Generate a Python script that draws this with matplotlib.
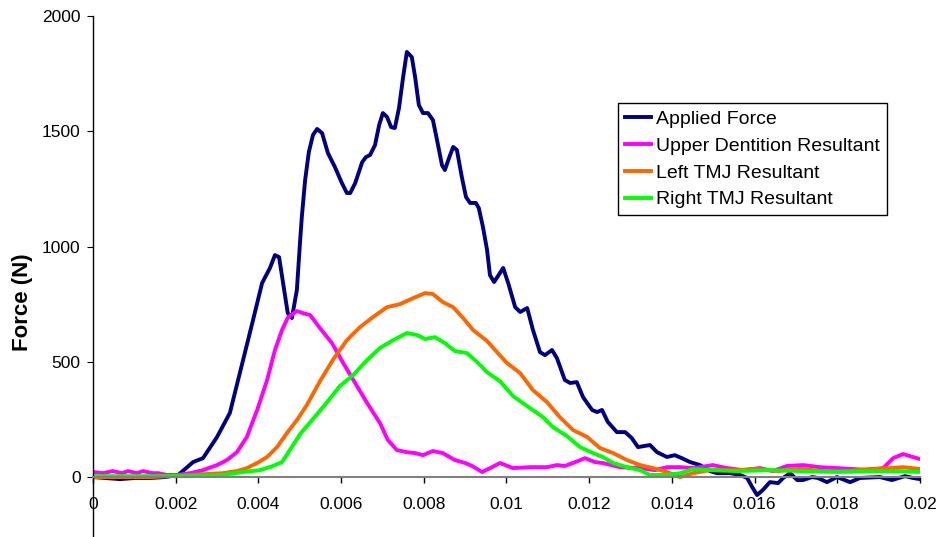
import matplotlib
matplotlib.use('Agg')
import matplotlib.pyplot as plt
import numpy as np

plt.rcParams['font.family'] = ['Liberation Sans', 'DejaVu Sans']

# time in ms (converted to seconds below)
t_applied = [0, 0.29, 0.65, 1.02, 1.38, 1.74, 2.06, 2.42, 2.66, 3.00, 3.31, 3.63, 3.87, 4.09,
             4.28, 4.40, 4.50, 4.71, 4.81, 4.93, 5.01, 5.05, 5.13, 5.22, 5.32, 5.42, 5.54,
             5.68, 5.85, 6.02, 6.14, 6.22, 6.34, 6.51, 6.60, 6.70, 6.82, 6.92, 7.01, 7.11,
             7.21, 7.30, 7.40, 7.50, 7.59, 7.71, 7.79, 7.88, 7.98, 8.10, 8.22, 8.32, 8.44,
             8.51, 8.61, 8.71, 8.80, 8.92, 9.02, 9.12, 9.26, 9.33, 9.43, 9.53, 9.60, 9.70,
             9.92, 10.04, 10.21, 10.33, 10.50, 10.64, 10.81, 10.93, 11.10, 11.22, 11.41,
             11.54, 11.70, 11.85, 12.07, 12.19, 12.31, 12.45, 12.67, 12.87, 13.03, 13.18,
             13.47, 13.64, 13.88, 14.07, 14.24, 14.44, 14.68, 14.92, 15.09, 15.41, 15.65,
             15.82, 15.94, 16.06, 16.20, 16.37, 16.57, 16.69, 16.86, 17.03, 17.17, 17.39,
             17.53, 17.75, 17.99, 18.31, 18.55, 19.03, 19.32, 19.64, 19.83, 20.00]
applied = [0, -4, -9, -4, -4, 0, 9, 65, 82, 174, 278, 508, 681, 842,
           907, 963, 954, 711, 690, 811, 1028, 1128, 1288, 1410, 1484, 1510, 1492,
           1406, 1345, 1275, 1232, 1232, 1275, 1366, 1388, 1397, 1440, 1527, 1579, 1562,
           1518, 1514, 1601, 1735, 1844, 1822, 1735, 1614, 1579, 1579, 1549, 1462, 1353,
           1332, 1384, 1432, 1419, 1301, 1215, 1189, 1189, 1167, 1085, 985, 876, 846,
           907, 842, 737, 716, 733, 638, 542, 529, 551, 516, 421,
           408, 412, 347, 291, 282, 291, 239, 195, 195, 169, 130,
           139, 108, 87, 95, 82, 65, 52, 26, 17, 17, 9,
           -4, -43, -78, -56, -22, -26, -4, 17, -13, -13, 0,
           -4, -22, 0, -22, -4, 0, -13, 4, -4, -9]

t_upper = [0, 0.24, 0.48, 0.70, 0.85, 1.06, 1.21, 1.43, 1.57, 1.79, 2.03, 2.35, 2.66, 3.00,
           3.24, 3.48, 3.72, 3.97, 4.21, 4.40, 4.57, 4.72, 4.93, 5.08, 5.25, 5.49, 5.78,
           6.05, 6.34, 6.63, 6.94, 7.13, 7.35, 7.59, 7.79, 7.98, 8.22, 8.46, 8.75, 9.00,
           9.17, 9.41, 9.65, 9.84, 10.16, 10.57, 10.98, 11.22, 11.41, 11.66, 11.90, 12.14,
           12.33, 12.74, 13.16, 13.40, 13.59, 13.88, 14.20, 14.51, 14.68, 14.99, 15.33,
           15.72, 16.13, 16.44, 16.78, 17.17, 17.58, 17.99, 18.38, 18.79, 19.11, 19.35,
           19.59, 19.83, 20.00]
upper = [22, 17, 26, 17, 26, 17, 26, 17, 17, 9, 9, 17, 30, 52,
         74, 108, 174, 291, 421, 551, 638, 694, 720, 711, 703, 646, 581,
         495, 408, 321, 234, 161, 117, 108, 104, 95, 113, 104, 74, 61,
         48, 22, 43, 61, 39, 43, 43, 52, 48, 65, 82, 65,
         61, 43, 39, 35, 30, 43, 43, 39, 43, 52, 39,
         30, 39, 26, 48, 52, 43, 39, 35, 30, 39, 82,
         100, 87, 78]

t_left = [0, 1.38, 2.35, 3.14, 3.48, 3.72, 3.97, 4.21, 4.45, 4.69, 4.93, 5.17, 5.49, 5.80,
          6.14, 6.46, 6.77, 7.11, 7.42, 7.74, 8.03, 8.22, 8.46, 8.71, 8.95, 9.19, 9.53,
          9.77, 10.01, 10.33, 10.64, 10.98, 11.29, 11.61, 11.95, 12.26, 12.58, 12.91,
          13.23, 13.54, 13.88, 14.20, 14.51, 14.92, 15.57, 16.06, 16.54, 17.10, 17.65,
          18.23, 18.79, 19.27, 19.59, 20.00]
left_tmj = [0, 0, 9, 17, 26, 39, 61, 87, 130, 191, 247, 312, 416, 508,
            594, 651, 694, 737, 750, 776, 798, 794, 759, 737, 690, 638, 590,
            542, 495, 451, 377, 325, 260, 204, 174, 126, 104, 74,
            52, 39, 22, 0, 17, 30, 30, 35, 26, 35, 26,
            26, 35, 39, 43, 35]

t_right = [0, 2.35, 3.14, 3.63, 4.04, 4.35, 4.57, 4.76, 5.01, 5.32, 5.66, 5.97, 6.29, 6.63,
           6.94, 7.26, 7.59, 7.84, 8.03, 8.27, 8.51, 8.75, 9.04, 9.29, 9.53, 9.84, 10.16,
           10.57, 10.88, 11.12, 11.46, 11.78, 12.09, 12.33, 12.58, 12.91, 13.23, 13.47,
           13.88, 14.20, 14.51, 14.92, 15.57, 16.37, 17.17, 17.99, 18.79, 19.44, 20.00]
right_tmj = [4, 4, 9, 22, 30, 48, 65, 117, 187, 252, 325, 395, 442, 508,
             560, 594, 625, 616, 599, 607, 581, 547, 538, 499, 455, 416, 351,
             299, 260, 217, 178, 130, 104, 87, 61, 43, 30, 9,
             9, 17, 35, 30, 26, 30, 26, 22, 26, 26, 22]

series_names = ['Applied Force', 'Upper Dentition Resultant', 'Left TMJ Resultant', 'Right TMJ Resultant']
xtick_vals = [0, 0.002, 0.004, 0.006, 0.008, 0.01, 0.012, 0.014, 0.016, 0.018, 0.02]
xtick_labels = ['0', '0.002', '0.004', '0.006', '0.008', '0.01', '0.012', '0.014', '0.016', '0.018', '0.02']
ytick_vals = [0, 500, 1000, 1500, 2000]

fig = plt.figure(figsize=(9.39, 5.37), dpi=100)
ax = fig.add_axes([93 / 939, 0.0, 827 / 939, 521 / 537])

colors = ['#000080', '#FF00FF', '#FF6600', '#00FF00']
data = [(t_applied, applied), (t_upper, upper), (t_left, left_tmj), (t_right, right_tmj)]
for (t, y), c, name in zip(data, colors, series_names):
    ax.plot(np.array(t) / 1000.0, y, color=c, lw=2.8, label=name, solid_joinstyle='round')

ax.set_xlim(0, 0.02)
ax.set_ylim(-260, 2000)

ax.spines['top'].set_visible(False)
ax.spines['right'].set_visible(False)
ax.spines['bottom'].set_position(('data', 0))
ax.spines['bottom'].set_color('#808080')
ax.spines['bottom'].set_linewidth(1.5)
ax.spines['left'].set_linewidth(1.0)

ax.set_xticks(xtick_vals)
ax.set_xticklabels(xtick_labels)
ax.set_yticks(ytick_vals)
ax.tick_params(axis='both', labelsize=12.5, length=4, direction='out', pad=5)
ax.tick_params(axis='x', color='black', width=1, pad=10)

ax.set_ylabel('Force (N)', fontsize=16, fontweight='bold')
ax.yaxis.set_label_coords(-0.073, 0.45)

leg = ax.legend(loc='upper left', bbox_to_anchor=(0.635, 0.833), fontsize=14,
                frameon=True, fancybox=False, framealpha=1, edgecolor='black',
                handlelength=1.35, handletextpad=0.25, labelspacing=0.48, borderpad=0.36,
                borderaxespad=0)
leg.get_frame().set_linewidth(1.0)

fig.savefig('out.png', dpi=100)
